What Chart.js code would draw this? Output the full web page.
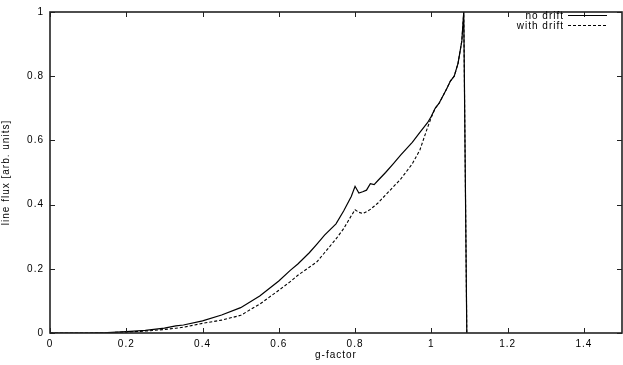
<!DOCTYPE html>
<html>
<head>
<meta charset="utf-8">
<script src="https://cdn.jsdelivr.net/npm/chart.js@4.4.1/dist/chart.umd.min.js"></script>
<style>
  html, body { margin: 0; padding: 0; background: #fff; }
  #wrap { width: 623px; height: 365px; }
</style>
</head>
<body>
<div id="wrap"><canvas id="chartFlux"></canvas></div>
<script>
// g-factor sample points
const gFactor = [0, 0.1, 0.15, 0.2, 0.25, 0.3, 0.33, 0.35, 0.4, 0.45, 0.5, 0.55, 0.6, 0.63, 0.65, 0.68,
    0.7, 0.72, 0.75, 0.77, 0.79, 0.8, 0.81, 0.82, 0.83, 0.84, 0.85, 0.86, 0.88, 0.9, 0.92, 0.95,
    0.97, 0.99, 1.0, 1.01, 1.02, 1.04, 1.05, 1.06, 1.07, 1.08, 1.085, 1.093];

const noDrift = [0, 0, 0.001, 0.004, 0.008, 0.015, 0.022, 0.025, 0.038, 0.056, 0.079, 0.115, 0.162, 0.195, 0.215, 0.25,
    0.277, 0.305, 0.34, 0.38, 0.425, 0.457, 0.436, 0.44, 0.445, 0.465, 0.462, 0.475, 0.5, 0.527, 0.555, 0.594,
    0.625, 0.655, 0.675, 0.7, 0.715, 0.76, 0.785, 0.8, 0.84, 0.91, 1.0, 0];

const withDrift = [0, 0, 0.001, 0.003, 0.006, 0.011, 0.015, 0.018, 0.03, 0.04, 0.055, 0.09, 0.133, 0.16, 0.18, 0.205,
    0.222, 0.25, 0.293, 0.325, 0.365, 0.384, 0.376, 0.372, 0.378, 0.385, 0.395, 0.405, 0.43, 0.455, 0.48, 0.527,
    0.57, 0.64, 0.672, 0.7, 0.715, 0.76, 0.785, 0.8, 0.84, 0.91, 1.0, 0];

const seriesNames = ['no drift', 'with drift'];

const FONT = '"Liberation Sans", Arial, sans-serif';

const toPoints = (ys) => gFactor.map((g, i) => ({ x: g, y: ys[i] }));
const fmt = (v) => String(Number(v.toFixed(1)));

// frame, inward ticks on all four sides, legend
const framePlugin = {
    id: 'frame',
    beforeDraw(chart) {
        chart.ctx.letterSpacing = '1px';
    },
    afterDraw(chart) {
        const ctx = chart.ctx;
        const a = chart.chartArea;
        const xs = chart.scales.x;
        const ys = chart.scales.y;
        ctx.save();
        ctx.strokeStyle = '#222';
        ctx.lineWidth = 1;
        xs.ticks.forEach(t => {
            const px = Math.round(xs.getPixelForValue(t.value)) + 0.5;
            ctx.beginPath();
            ctx.moveTo(px, a.bottom); ctx.lineTo(px, a.bottom - 5);
            ctx.moveTo(px, a.top); ctx.lineTo(px, a.top + 5);
            ctx.stroke();
        });
        ys.ticks.forEach(t => {
            const py = Math.round(ys.getPixelForValue(t.value)) + 0.5;
            ctx.beginPath();
            ctx.moveTo(a.left, py); ctx.lineTo(a.left + 5, py);
            ctx.moveTo(a.right, py); ctx.lineTo(a.right - 5, py);
            ctx.stroke();
        });
        ctx.lineWidth = 1.6;
        ctx.strokeRect(a.left, a.top, a.right - a.left, a.bottom - a.top);

        // legend
        ctx.font = '10px ' + FONT;
        ctx.fillStyle = '#000';
        ctx.textAlign = 'right';
        ctx.textBaseline = 'alphabetic';
        ctx.lineWidth = 1.1;
        ctx.strokeStyle = '#000';
        seriesNames.forEach((name, i) => {
            const y = 15 + i * 10;
            ctx.fillText(name, 564, y + 3.5);
            ctx.setLineDash(i === 0 ? [] : [3, 2]);
            ctx.beginPath();
            ctx.moveTo(568, y + 0.5); ctx.lineTo(607, y + 0.5);
            ctx.stroke();
        });
        ctx.restore();
    }
};

const chartFlux = new Chart(document.getElementById('chartFlux'), {
    type: 'line',
    data: {
        datasets: [{
            label: seriesNames[0],
            data: toPoints(noDrift),
            borderColor: '#000',
            borderWidth: 1.2,
            pointRadius: 0,
            tension: 0
        }, {
            label: seriesNames[1],
            data: toPoints(withDrift),
            borderColor: '#000',
            borderWidth: 1.1,
            borderDash: [3, 2],
            pointRadius: 0,
            tension: 0
        }]
    },
    options: {
        responsive: true,
        maintainAspectRatio: false,
        animation: false,
        layout: { padding: { left: 0, right: 1, top: 5, bottom: 0 } },
        plugins: {
            legend: { display: false },
            tooltip: { enabled: false }
        },
        scales: {
            x: {
                type: 'linear',
                min: 0,
                max: 1.5,
                grid: { display: false, drawTicks: false },
                border: { display: false },
                ticks: {
                    stepSize: 0.2,
                    includeBounds: false,
                    padding: 5,
                    color: '#000',
                    font: { family: FONT, size: 10 },
                    maxRotation: 0,
                    callback: (v) => fmt(v)
                },
                title: {
                    display: true,
                    text: 'g-factor',
                    color: '#000',
                    font: { family: FONT, size: 10 },
                    padding: { top: 0, bottom: 4 }
                },
                afterFit: (s) => { s.height = 32; }
            },
            y: {
                min: 0,
                max: 1,
                grid: { display: false, drawTicks: false },
                border: { display: false },
                ticks: {
                    stepSize: 0.2,
                    padding: 6,
                    color: '#000',
                    font: { family: FONT, size: 10 },
                    callback: (v) => fmt(v)
                },
                title: {
                    display: true,
                    text: 'line flux [arb. units]',
                    color: '#000',
                    font: { family: FONT, size: 10 },
                    padding: { top: 0, bottom: 0 }
                },
                afterFit: (s) => { s.width = 50; }
            }
        }
    },
    plugins: [framePlugin]
});
</script>
</body>
</html>
